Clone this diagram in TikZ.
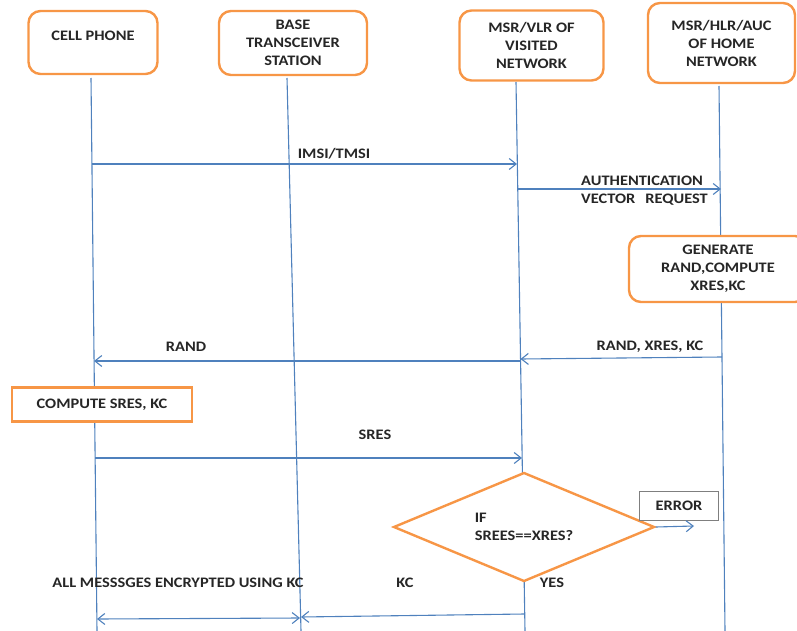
\documentclass[tikz,border=0pt]{standalone}
\usepackage{fontspec}
\setmainfont{Carlito}[FakeStretch=1.13]
\usepackage{tikz}
\usetikzlibrary{shapes.geometric,arrows.meta,backgrounds}
\definecolor{lineblue}{HTML}{4F81BD}
\definecolor{boxorange}{HTML}{F79646}
\definecolor{boxgray}{HTML}{7F7F7F}
\definecolor{txtgray}{HTML}{262626}
\tikzset{
  lbl/.style={font=\bfseries\fontsize{14.5}{18}\selectfont, text=txtgray, inner sep=0pt},
  entity/.style={lbl, draw=boxorange, line width=2.4pt, rounded corners=12pt, fill=white, align=center},
  action/.style={lbl, draw=boxorange, line width=2.4pt, fill=white},
  decision/.style={lbl, diamond, draw=boxorange, line width=2.4pt, fill=white, align=left, aspect=2.4},
  errbox/.style={lbl, draw=boxgray, line width=1.2pt, fill=white},
  lifeline/.style={draw=lineblue, line width=1.1pt},
  msg/.style={draw=lineblue, line width=1.1pt, -{Straight Barb[length=7pt,width=11pt]}},
  msgboth/.style={msg, {Straight Barb[length=7pt,width=11pt]}-{Straight Barb[length=7pt,width=11pt]}}
}
\begin{document}
\begin{tikzpicture}[x=1pt,y=-1pt]
\useasboundingbox (0,0) rectangle (797,631);
\node[entity, minimum width=129pt, minimum height=63pt, text height=9.5pt, text depth=13pt] (cell) at (93,42.5) {CELL PHONE};
\node[entity, minimum width=148pt, minimum height=64pt] (bts) at (293,43) {BASE\\TRANSCEIVER\\STATION};
\node[entity, minimum width=144pt, minimum height=70pt] (vlr) at (531.5,45.5) {MSR/VLR OF\\VISITED\\NETWORK};
\node[entity, minimum width=147pt, minimum height=80pt] (hlr) at (721.5,43) {MSR/HLR/AUC\\OF HOME\\NETWORK};
\node[entity, minimum width=178pt, minimum height=66pt] (gen) at (718,269) {GENERATE\\RAND,COMPUTE\\XRES,KC};
\node[action, minimum width=180pt, minimum height=34pt] (comp) at (102,404.5) {COMPUTE SRES, KC};
\node[decision, minimum width=261pt, minimum height=109pt] (chk) at (524,527) {IF\\SREES==XRES?};
\node[errbox, minimum width=79pt, minimum height=29pt] (err) at (679,506) {ERROR};
\coordinate (cellT) at (91,78);
\coordinate (cellB) at (97,631);
\coordinate (btsT) at (287,78);
\coordinate (btsB) at (301,631);
\coordinate (vlrT) at (516,82);
\coordinate (vlrB) at (525,631);
\coordinate (hlrT) at (719,86);
\coordinate (hlrB) at (725,631);
\begin{scope}[on background layer]
\draw[lifeline] (cellT) -- (cellB);
\draw[lifeline] (btsT) -- (btsB);
\draw[lifeline] (vlrT) -- (vlrB);
\draw[lifeline] (hlrT) -- (hlrB);
\end{scope}
\coordinate (imsiA) at (92,164);
\coordinate (imsiB) at (517,164);
\coordinate (authA) at (518,189);
\coordinate (authB) at (721,189);
\coordinate (randxA) at (722,357);
\coordinate (randxB) at (520.5,359);
\coordinate (randA) at (520.5,361);
\coordinate (randB) at (94,361);
\coordinate (sresA) at (95,458);
\coordinate (sresB) at (522,458);
\coordinate (errB) at (694,526);
\coordinate (kcA) at (524.5,614);
\coordinate (kcB) at (301,617);
\coordinate (encA) at (97,619);
\coordinate (encB) at (300,618);
\draw[msg] (imsiA) -- (imsiB);
\draw[msg] (authA) -- (authB);
\draw[msg] (randxA) -- (randxB);
\draw[msg] (randA) -- (randB);
\draw[msg] (sresA) -- (sresB);
\draw[msg] (chk.east) -- (errB);
\draw[msg] (kcA) -- (kcB);
\draw[msgboth] (encA) -- (encB);
\node[lbl] (imsiL) at (334,154) {IMSI/TMSI};
\node[lbl, align=left, anchor=west] (authL) at (581,191) {AUTHENTICATION\\VECTOR\hspace{10pt}REQUEST};
\node[lbl] (randL) at (186,347) {RAND};
\node[lbl] (randxL) at (650,347) {RAND, XRES, KC};
\node[lbl] (sresL) at (375,435) {SRES};
\node[lbl] (kcL) at (405,583) {KC};
\node[lbl] (yesL) at (552,583) {YES};
\node[lbl] (encL) at (178,583) {ALL MESSSGES ENCRYPTED USING KC};
\end{tikzpicture}
\end{document}
